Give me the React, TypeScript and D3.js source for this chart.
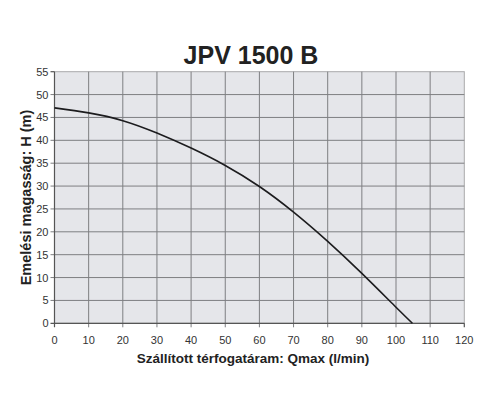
import React, { useEffect, useRef } from 'react';
import * as d3 from 'd3';

// Pump curve: flow (l/min) vs head (m)
const flowValues = [0, 10, 20, 30, 40, 50, 60, 70, 80, 90, 100, 104.8];
const headValues = [47.1, 46.0, 44.3, 41.6, 38.3, 34.5, 29.9, 24.3, 17.9, 10.9, 3.5, 0];
const xTicks = [0, 10, 20, 30, 40, 50, 60, 70, 80, 90, 100, 110, 120];
const yTicks = [0, 5, 10, 15, 20, 25, 30, 35, 40, 45, 50, 55];

const title = 'JPV 1500 B';
const xTitle = 'Szállított térfogatáram: Qmax (l/min)';
const yTitle = 'Emelési magasság: H (m)';

const width = 500;
const height = 418;

const App: React.FC = () => {
  const svgRef = useRef<SVGSVGElement>(null);

  useEffect(() => {
    if (!svgRef.current) return;
    const svg = d3.select(svgRef.current);
    svg.selectAll('*').remove();

    const left = 54.5;
    const right = 464.3;
    const top = 71.7;
    const bottom = 323.3;

    const x = d3.scaleLinear().domain([0, 120]).range([left, right]);
    const y = d3.scaleLinear().domain([0, 55]).range([bottom, top]);
    const font = 'Liberation Sans, Arial, sans-serif';

    svg.append('rect').attr('width', width).attr('height', height).attr('fill', '#ffffff');

    // Plot background
    svg
      .append('rect')
      .attr('x', left)
      .attr('y', top)
      .attr('width', right - left)
      .attr('height', bottom - top)
      .attr('fill', '#e5e6ea')
      .attr('stroke', '#a9a9ab')
      .attr('stroke-width', 1);

    // Grid
    const grid = svg.append('g').attr('stroke', '#7e7f82').attr('stroke-width', 1);
    xTicks.slice(1, -1).forEach(t => {
      grid.append('line').attr('x1', x(t)).attr('x2', x(t)).attr('y1', top).attr('y2', bottom + 4);
    });
    yTicks.slice(1, -1).forEach(t => {
      grid.append('line').attr('x1', left - 4).attr('x2', right).attr('y1', y(t)).attr('y2', y(t));
    });

    // Axis lines and outer ticks
    const axes = svg.append('g').attr('stroke', '#555').attr('stroke-width', 1.2);
    axes.append('line').attr('x1', left).attr('x2', left).attr('y1', top).attr('y2', bottom + 4);
    axes.append('line').attr('x1', left - 4).attr('x2', right).attr('y1', bottom).attr('y2', bottom);
    axes.append('line').attr('x1', right).attr('x2', right).attr('y1', bottom).attr('y2', bottom + 4);
    axes.append('line').attr('x1', left - 4).attr('x2', left).attr('y1', top).attr('y2', top);

    // Tick labels
    svg
      .append('g')
      .selectAll('text')
      .data(xTicks)
      .join('text')
      .attr('x', d => x(d))
      .attr('y', 344)
      .attr('text-anchor', 'middle')
      .attr('font-family', font)
      .attr('font-size', '11px')
      .attr('fill', '#333')
      .text(d => d);

    svg
      .append('g')
      .selectAll('text')
      .data(yTicks)
      .join('text')
      .attr('x', 48.5)
      .attr('y', d => y(d) + 4)
      .attr('text-anchor', 'end')
      .attr('font-family', font)
      .attr('font-size', '11px')
      .attr('fill', '#333')
      .text(d => d);

    // Curve
    const line = d3
      .line<number>()
      .x((_, i) => x(flowValues[i]))
      .y(d => y(d))
      .curve(d3.curveNatural);

    svg
      .append('path')
      .attr('d', line(headValues))
      .attr('fill', 'none')
      .attr('stroke', '#1c1c1e')
      .attr('stroke-width', 1.6);

    // Titles
    svg
      .append('text')
      .attr('x', 251)
      .attr('y', 63.5)
      .attr('text-anchor', 'middle')
      .attr('font-family', font)
      .attr('font-weight', 'bold')
      .attr('font-size', '25px')
      .attr('fill', '#222')
      .text(title);

    svg
      .append('text')
      .attr('x', 253)
      .attr('y', 363)
      .attr('text-anchor', 'middle')
      .attr('font-family', font)
      .attr('font-weight', 'bold')
      .attr('font-size', '13.5px')
      .attr('fill', '#222')
      .text(xTitle);

    svg
      .append('text')
      .attr('transform', `translate(30.5, ${(top + bottom) / 2}) rotate(-90)`)
      .attr('text-anchor', 'middle')
      .attr('font-family', font)
      .attr('font-weight', 'bold')
      .attr('font-size', '14.5px')
      .attr('fill', '#222')
      .text(yTitle);
  }, []);

  return (
    <svg
      ref={svgRef}
      width={width}
      height={height}
      style={{ position: 'absolute', left: 0, top: 0 }}
    />
  );
};

export default App;
